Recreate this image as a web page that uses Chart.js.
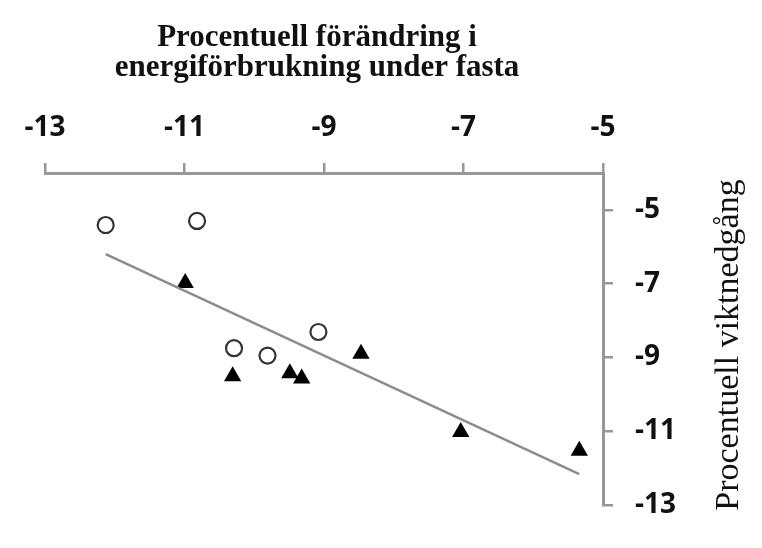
<!DOCTYPE html>
<html lang="sv">

<head>
    <meta charset="UTF-8" />
    <title>Energiförbrukning och viktnedgång</title>
    <script src="https://cdn.jsdelivr.net/npm/chart.js"></script>
    <style>
        body {
            margin: 0;
            background: #ffffff;
        }

        .chart-box {
            width: 762px;
            height: 548px;
        }
    </style>
</head>

<body>
    <div class="chart-box">
        <canvas id="fastaChart" width="762" height="548"></canvas>
    </div>

    <script>
        // ===== Data =====
        const cirkelX = [-12.13, -10.82, -10.29, -9.81, -9.08];
        const cirkelY = [-5.41, -5.30, -8.75, -8.95, -8.31];

        const triangelX = [-10.99, -10.31, -9.49, -9.32, -8.47, -7.04, -5.34];
        const triangelY = [-6.98, -9.51, -9.43, -9.57, -8.90, -11.02, -11.53];

        const linjeX = [-12.13, -5.34];
        const linjeY = [-6.20, -12.16];

        const xTicks = [-13, -11, -9, -7, -5];
        const yTicks = [-5, -7, -9, -11, -13];

        const xTitel = ['Procentuell förändring i', 'energiförbrukning under fasta'];
        const yTitel = 'Procentuell viktnedgång';

        const toPoints = (xs, ys) => xs.map((x, i) => ({ x: x, y: ys[i] }));

        const axelFarg = '#979797';

        // titlar ritas för hand (y-titeln läses nedifrån och upp)
        const titelPlugin = {
            id: 'titlar',
            afterDraw(chart) {
                const ctx = chart.ctx;
                ctx.save();
                ctx.fillStyle = '#111';
                ctx.textAlign = 'center';
                ctx.textBaseline = 'middle';
                ctx.font = 'bold 31px "Liberation Serif", serif';
                ctx.fillText(xTitel[0], 317, 38);
                ctx.fillText(xTitel[1], 317, 68);

                ctx.translate(729, 345);
                ctx.rotate(-Math.PI / 2);
                ctx.font = '34px "Liberation Serif", serif';
                ctx.fillText(yTitel, 0, 0);
                ctx.restore();
            }
        };

        new Chart(document.getElementById('fastaChart'), {
            type: 'scatter',
            data: {
                datasets: [{
                    label: 'Linje',
                    type: 'line',
                    data: toPoints(linjeX, linjeY),
                    borderColor: '#8c8c8c',
                    borderWidth: 2.5,
                    pointRadius: 0,
                    fill: false
                }, {
                    label: 'Cirklar',
                    data: toPoints(cirkelX, cirkelY),
                    pointStyle: 'circle',
                    pointRadius: 8,
                    pointBorderWidth: 2.2,
                    pointBorderColor: '#333333',
                    pointBackgroundColor: '#ffffff'
                }, {
                    label: 'Trianglar',
                    data: toPoints(triangelX, triangelY),
                    pointStyle: 'triangle',
                    pointRadius: 10,
                    pointBorderWidth: 0,
                    pointBorderColor: '#000000',
                    pointBackgroundColor: '#000000'
                }]
            },
            options: {
                responsive: false,
                animation: false,
                devicePixelRatio: 1,
                layout: {
                    padding: { left: 45, right: 0, top: 0, bottom: 43 }
                },
                plugins: {
                    legend: { display: false },
                    tooltip: { enabled: false }
                },
                scales: {
                    x: {
                        type: 'linear',
                        position: 'top',
                        min: -13,
                        max: -5,
                        afterBuildTicks: (scale) => { scale.ticks = xTicks.map(v => ({ value: v })); },
                        afterFit: (scale) => { scale.height = 173; },
                        grid: {
                            drawOnChartArea: false,
                            drawTicks: true,
                            tickLength: 10,
                            color: axelFarg,
                            lineWidth: 2.5
                        },
                        border: { color: axelFarg, width: 3 },
                        ticks: {
                            color: '#111',
                            padding: 18,
                            maxRotation: 0,
                            font: { family: '"Open Sans", sans-serif', size: 28, weight: 'bold' }
                        }
                    },
                    y: {
                        type: 'linear',
                        position: 'right',
                        min: -13,
                        max: -4,
                        afterBuildTicks: (scale) => { scale.ticks = yTicks.map(v => ({ value: v })); },
                        afterFit: (scale) => { scale.width = 159; },
                        grid: {
                            drawOnChartArea: false,
                            drawTicks: true,
                            tickLength: 10,
                            color: axelFarg,
                            lineWidth: 2.5
                        },
                        border: { color: axelFarg, width: 3 },
                        ticks: {
                            color: '#111',
                            padding: 22,
                            font: { family: '"Open Sans", sans-serif', size: 28, weight: 'bold' }
                        }
                    }
                }
            },
            plugins: [titelPlugin]
        });
    </script>

</body>

</html>
